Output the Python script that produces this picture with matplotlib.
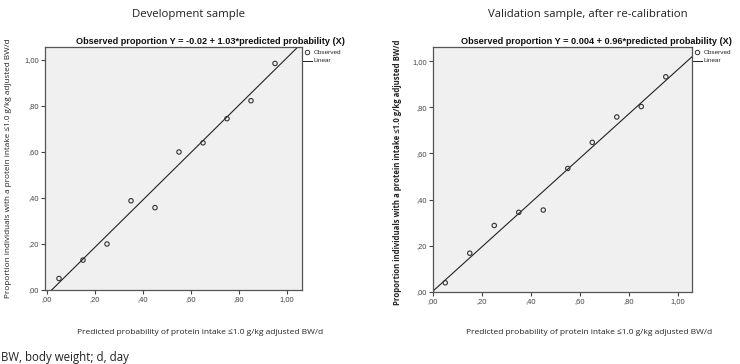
import matplotlib
matplotlib.use("Agg")
import matplotlib.pyplot as plt
import numpy as np

# Data
pred_x = [0.05, 0.15, 0.25, 0.35, 0.45, 0.55, 0.65, 0.75, 0.85, 0.95]
dev_obs = [0.05, 0.13, 0.20, 0.388, 0.358, 0.60, 0.64, 0.745, 0.823, 0.985]
val_obs = [0.04, 0.168, 0.288, 0.345, 0.355, 0.535, 0.648, 0.758, 0.803, 0.932]
dev_fit = (-0.02, 1.03)
val_fit = (0.004, 0.96)
tick_vals = [0.0, 0.2, 0.4, 0.6, 0.8, 1.0]
tick_labels = [",00", ",20", ",40", ",60", ",80", "1,00"]

panel_titles = ["Development sample", "Validation sample, after re-calibration"]
chart_titles = ["Observed proportion Y = -0.02 + 1.03*predicted probability (X)",
                "Observed proportion Y = 0.004 + 0.96*predicted probability (X)"]
ylabel = "Proportion individuals with a protein intake \u22641.0 g/kg adjusted BW/d"
xlabel = "Predicted probability of protein intake \u22641.0 g/kg adjusted BW/d"
footnote = "BW, body weight; d, day"

W, H = 740, 364
fig = plt.figure(figsize=(W / 100, H / 100), dpi=100)

def fx(px):
    return px / W

def fy(py):
    return 1 - py / H

panels = [
    dict(box=(45, 47, 302, 290), xlim=(-0.0083, 1.0625), ylim=(0, 1.0565),
         obs=dev_obs, fit=dev_fit, title_x=188, chart_title_x=210,
         ylab_x=8, ylab_y=168, ylab_size=5.9, xlab_x=200, ylab_bold=False),
    dict(box=(433, 47, 692, 292), xlim=(0, 1.057), ylim=(0, 1.061),
         obs=val_obs, fit=val_fit, title_x=588, chart_title_x=596,
         ylab_x=398, ylab_y=172, ylab_size=5.6, xlab_x=589, ylab_bold=True),
]

title_font = ["Open Sans", "DejaVu Sans"]
arial = ["Liberation Sans", "DejaVu Sans"]

for i, p in enumerate(panels):
    x0, y0, x1, y1 = p["box"]
    ax = fig.add_axes([fx(x0), fy(y1), fx(x1 - x0), (y1 - y0) / H])
    ax.set_facecolor("#f0f0f0")
    ax.set_xlim(*p["xlim"])
    ax.set_ylim(*p["ylim"])
    for s in ax.spines.values():
        s.set_color("#555555")
        s.set_linewidth(0.9)
    ax.set_xticks(tick_vals)
    ax.set_yticks(tick_vals)
    ax.set_xticklabels(tick_labels, fontsize=5.4, family=arial, color="#333333")
    ax.set_yticklabels(tick_labels, fontsize=5.4, family=arial, color="#333333")
    ax.tick_params(direction="out", length=3, width=0.8, colors="#444444", pad=1.5)
    a, b = p["fit"]
    xs = np.array(p["xlim"])
    ax.plot(xs, a + b * xs, color="#222222", lw=0.8)
    ax.scatter(pred_x, p["obs"], s=10, facecolors="none", edgecolors="#333333",
               linewidths=0.8, zorder=3, clip_on=False)

    fig.text(fx(p["title_x"]), fy(15), panel_titles[i], ha="center", va="center",
             fontsize=8.2, family=title_font, color="#222222")
    fig.text(fx(p["chart_title_x"]), fy(42), chart_titles[i], ha="center",
             va="center", fontsize=6.6, fontweight="bold", family=arial,
             color="#111111")
    fig.text(fx(p["ylab_x"]), fy(p["ylab_y"]), ylabel, rotation=90, ha="center",
             va="center", fontsize=p["ylab_size"], family=title_font, color="#222222",
             fontweight="bold" if p["ylab_bold"] else "normal")
    fig.text(fx(p["xlab_x"]), fy(332), xlabel, ha="center", va="center",
             fontsize=6.0, family=title_font, color="#222222")

    # legend
    lx = x1 + 3
    fig.lines.append(matplotlib.lines.Line2D([fx(lx + 2)], [fy(52)], marker="o",
                     markersize=3.2, markerfacecolor="none",
                     markeredgecolor="#333333", markeredgewidth=0.7,
                     transform=fig.transFigure))
    fig.text(fx(lx + 9), fy(52), "Observed", fontsize=4.6, family=arial,
             va="center", color="#222222")
    fig.lines.append(matplotlib.lines.Line2D([fx(lx - 2), fx(lx + 7)], [fy(61), fy(61)],
                     color="#222222", lw=0.7, transform=fig.transFigure))
    fig.text(fx(lx + 9), fy(61), "Linear", fontsize=4.6, family=arial,
             va="center", color="#222222")

fig.text(fx(1), fy(357), footnote, ha="left", va="center", fontsize=8.3,
         family=title_font, color="#222222")

fig.savefig("out.png", dpi=100)
